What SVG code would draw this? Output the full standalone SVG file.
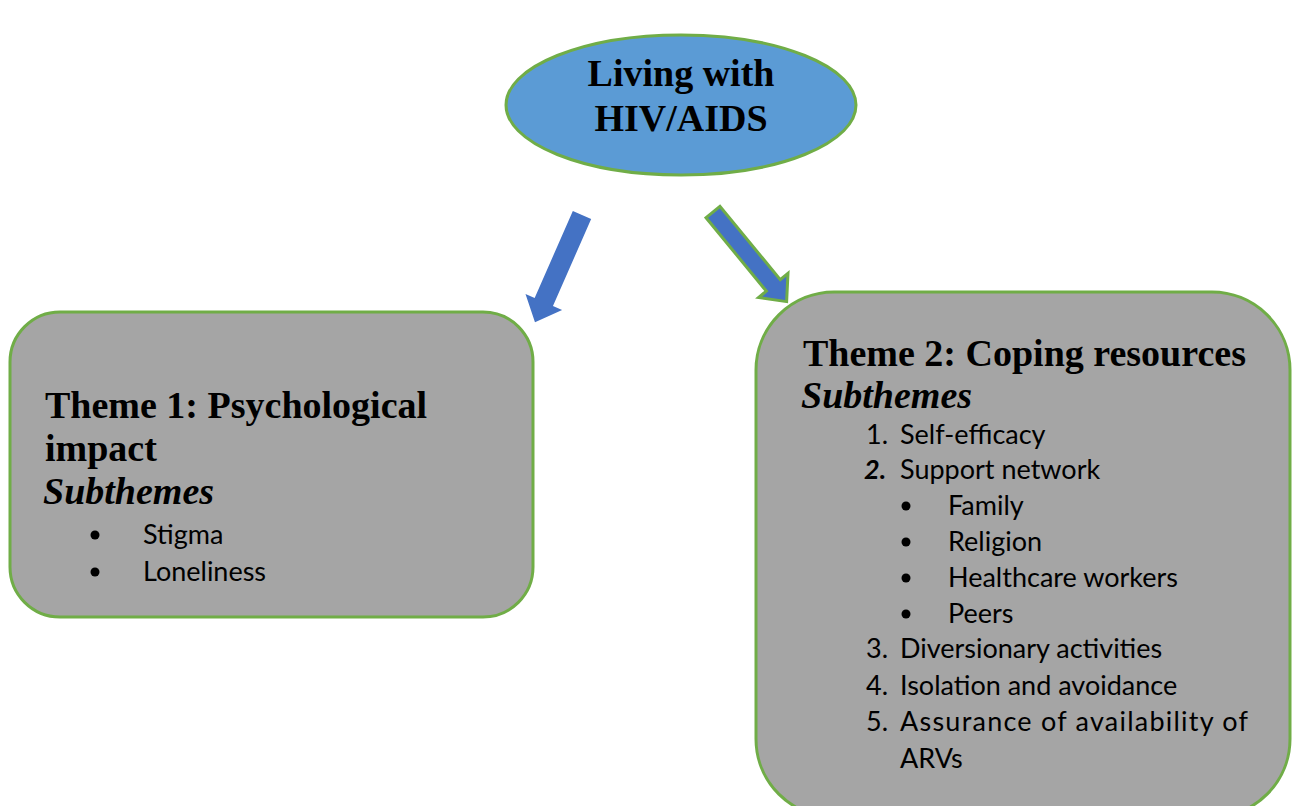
<svg xmlns="http://www.w3.org/2000/svg" width="1292" height="806" viewBox="0 0 1292 806">
<style>
.bg{fill:#ffffff}
.box{fill:#a5a5a5;stroke:#70ad47;stroke-width:3}
.oval{fill:#5b9bd5;stroke:#70ad47;stroke-width:3}
.arrow{fill:#4472c4}
.arrow2{fill:#4472c4;stroke:#70ad47;stroke-width:3;stroke-linejoin:miter}
.title{font-family:"Liberation Serif","Times New Roman",serif;font-weight:bold;font-size:38px;fill:#000}
.sub{font-family:"Liberation Serif","Times New Roman",serif;font-weight:bold;font-style:italic;font-size:38px;fill:#000}
.item{font-family:Lato,"Open Sans",sans-serif;font-size:27px;fill:#000}
.num2{font-weight:bold;font-style:italic}
.dot{fill:#000}
</style>
<rect class="bg" x="0" y="0" width="1292" height="806"/>
<g id="connectors">
<g transform="translate(582,215) rotate(23.7)"><path class="arrow" d="M-10,0 L-10,95 L-20,95 L0,117 L20,95 L10,95 L10,0 Z"/></g>
<g transform="translate(713,212) rotate(-39.4)"><path class="arrow2" d="M-9,0 L-9,95 L-19,95 L0,116 L19,95 L9,95 L9,0 Z"/></g>
</g>
<g id="root">
<ellipse class="oval" cx="681" cy="105" rx="175" ry="70"/>
<text class="title" x="681" y="86" text-anchor="middle" font-size="37">Living with</text>
<text class="title" x="681" y="131" text-anchor="middle" font-size="37">HIV/AIDS</text>
</g>
<g id="theme1">
<rect class="box" x="10" y="312" width="523" height="305" rx="50" ry="50"/>
<text class="title" x="45" y="418">Theme 1: Psychological</text>
<text class="title" x="45" y="461">impact</text>
<text class="sub" x="43" y="504">Subthemes</text>
<circle class="dot" cx="95" cy="535" r="4.5"/>
<text class="item" x="143" y="544">Stigma</text>
<circle class="dot" cx="95" cy="572" r="4.5"/>
<text class="item" x="143" y="581">Loneliness</text>
</g>
<g id="theme2">
<rect class="box" x="756" y="292" width="534" height="525" rx="78" ry="78"/>
<text class="title" x="803" y="366">Theme 2: Coping resources</text>
<text class="sub" x="801" y="408">Subthemes</text>
<text class="item" x="866" y="444">1.</text>
<text class="item" x="900" y="444">Self-efficacy</text>
<text class="item num2" x="864" y="479">2.</text>
<text class="item" x="900" y="479">Support network</text>
<circle class="dot" cx="906" cy="506" r="4.5"/>
<text class="item" x="948" y="515">Family</text>
<circle class="dot" cx="906" cy="542" r="4.5"/>
<text class="item" x="948" y="551">Religion</text>
<circle class="dot" cx="906" cy="578" r="4.5"/>
<text class="item" x="948" y="587">Healthcare workers</text>
<circle class="dot" cx="906" cy="614" r="4.5"/>
<text class="item" x="948" y="623">Peers</text>
<text class="item" x="866" y="658">3.</text>
<text class="item" x="900" y="658">Diversionary activities</text>
<text class="item" x="866" y="695">4.</text>
<text class="item" x="900" y="695">Isolation and avoidance</text>
<text class="item" x="866" y="731">5.</text>
<text class="item" x="900" y="731" textLength="348" lengthAdjust="spacing">Assurance of availability of</text>
<text class="item" x="900" y="768">ARVs</text>
</g>
</svg>
